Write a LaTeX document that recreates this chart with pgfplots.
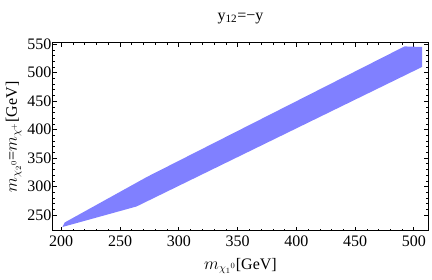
\documentclass[border=0pt]{standalone}
\usepackage{fontspec}
\setmainfont{Liberation Serif}
\usepackage{pgfplots}
\pgfplotsset{compat=1.18}
\definecolor{bandblue}{RGB}{128,128,255}
\begin{document}
\begin{tikzpicture}
\useasboundingbox (0,0) rectangle (432pt,280pt);
\begin{axis}[
  at={(53pt,49pt)}, anchor=south west,
  scale only axis, width=375pt, height=188pt,
  xmin=193, xmax=512, ymin=222, ymax=552,
  xtick={200,250,...,500}, ytick={250,300,...,550},
  minor x tick num=4, minor y tick num=4,
  tick align=inside, major tick length=4pt, minor tick length=2pt,
  tick style={black, line width=0.8pt},
  minor tick style={black, line width=0.6pt},
  axis line style={line width=1pt},
  /pgf/number format/assume math mode=true,
  /pgf/number format/1000 sep={},
  tick label style={font=\fontsize{16}{18}\selectfont},
  xticklabel style={yshift=-1pt},
  yticklabel style={xshift=2pt},
  label style={font=\fontsize{16}{18}\selectfont},
  xlabel={$m_{\chi_1{}^0}$[GeV]},
  ylabel={$m_{\chi_2{}^0}$=$m_{\chi^+}$[GeV]},
  xlabel style={yshift=-5pt},
  ylabel style={yshift=-1pt},
  title={y\textsubscript{12}=−y},
  title style={font=\fontsize{16}{18}\selectfont, yshift=10pt},
]
\addplot[fill=bandblue, draw=none] coordinates {
  (201,229) (264,265) (507,510) (507,545) (492,546) (273,317) (203,237)
} -- cycle;
\end{axis}
\end{tikzpicture}
\end{document}
